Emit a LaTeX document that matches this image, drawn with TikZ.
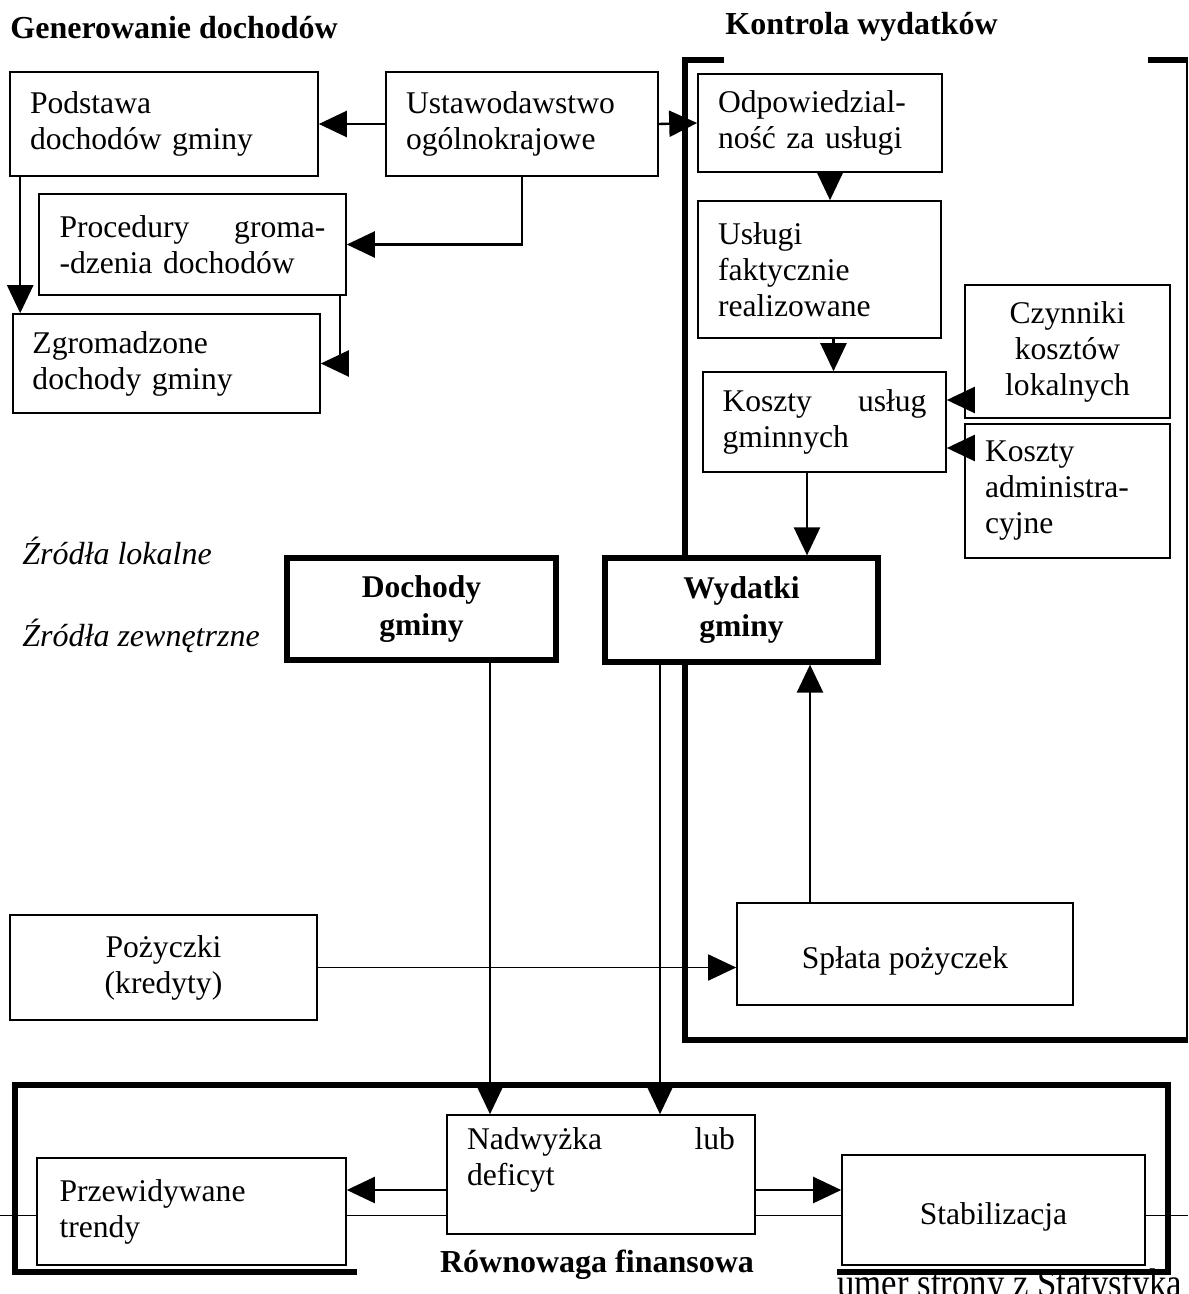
\documentclass[tikz,border=0pt]{standalone}
\usepackage{fontspec}
\setmainfont{Liberation Serif}
\usepackage{tikz}
\usetikzlibrary{arrows.meta}

\begin{document}
\begin{tikzpicture}[x=0.5pt, y=-0.5pt, font=\fontsize{15.8}{18}\selectfont,
  box/.style={draw, line width=0.8pt, fill=white, inner sep=0pt},
  mainbox/.style={draw, line width=2.6pt, fill=white, inner sep=0pt, align=center,
    font=\fontsize{15.8}{19}\selectfont\bfseries},
  title/.style={inner sep=0pt, anchor=west, font=\fontsize{16}{18}\selectfont\bfseries},
  arr/.style={-{Triangle[length=14pt,width=13pt]}, line width=1.2pt},
  frame/.style={line width=3pt}]
  \useasboundingbox (0,0) rectangle (1188,1294);

  % Titles
  \node[title] (gentitle) at (10,28) {Generowanie dochodów};
  \node[title] (kontitle) at (725,27) {Kontrola wydatków};

  % Frames
  \draw[frame] (724,60) -- (685,60) -- (685,1040) -- (1188,1040);
  \draw[frame] (1148,60) -- (1188,60);
  \draw[line width=0.6pt] (1187,60) -- (1187,1040);
  \draw[line width=0.5pt] (0,1215) -- (1188,1215);
  \draw[frame] (357,1272) -- (15,1272) -- (15,1085) -- (1168,1085) -- (1168,1272) -- (837,1272);

  % --- Generowanie dochodow ---
  \node[box, minimum width=154pt, minimum height=52pt, text width=134pt, align=left] (podstawa) at (164,124) {Podstawa\\dochodów gminy};
  \node[box, minimum width=136pt, minimum height=52pt, text width=116pt, align=left] (ustaw) at (522,124) {Ustawodawstwo\\ogólnokrajowe};
  \node[box, minimum width=153.5pt, minimum height=50.5pt, text width=133pt, align=left] (procedury) at (192.5,244.5) {Procedury\hfill groma-\\-dzenia dochodów};
  \node[box, minimum width=153.5pt, minimum height=49.5pt, text width=134pt, align=left] (zgrom) at (166.5,363.5) {Zgromadzone\\dochody gminy};

  % --- Kontrola wydatkow ---
  \node[box, minimum width=122pt, minimum height=49pt, text width=102pt, align=left] (odpow) at (820,123) {Odpowiedzial-\\ność za usługi};
  \node[box, minimum width=121.5pt, minimum height=68.5pt, text width=101.5pt, align=left] (uslugi) at (819.5,269.5) {Usługi\\faktycznie\\realizowane};
  \node[box, minimum width=102.5pt, minimum height=66.5pt, align=center] (czynniki) at (1067.5,351.5) {Czynniki\\kosztów\\lokalnych};
  \node[box, minimum width=121.5pt, minimum height=50pt, text width=102pt, align=left] (kosztyu) at (824.5,422) {Koszty\hfill usług\\gminnych};
  \node[box, minimum width=102.5pt, minimum height=67pt, text width=82.5pt, align=left] (admin) at (1067.5,491) {Koszty\\administra-\\cyjne};

  % Sources
  \node[inner sep=0pt, anchor=west, font=\fontsize{16}{18}\selectfont\itshape] (zrlok) at (22,551) {Źródła lokalne};
  \node[inner sep=0pt, anchor=west, font=\fontsize{16}{18}\selectfont\itshape] (zrzew) at (22,636) {Źródła zewnętrzne};

  % Main boxes
  \node[mainbox, minimum width=134.5pt, minimum height=51pt] (dochody) at (421.5,609) {Dochody\\gminy};
  \node[mainbox, minimum width=136.5pt, minimum height=52pt] (wydatki) at (741.5,610) {Wydatki\\gminy};

  % Loans
  \node[box, minimum width=153.5pt, minimum height=52.5pt, align=center] (pozyczki) at (163.5,967.5) {Pożyczki\\(kredyty)};
  \node[box, minimum width=168pt, minimum height=51pt, align=center] (splata) at (905,954) {\mbox{}\\Spłata pożyczek};

  % --- Rownowaga finansowa ---
  \node[box, minimum width=154pt, minimum height=59.5pt, text width=134pt, align=left] (nadwyzka) at (601,1174.5) {Nadwyżka\hfill lub\\deficyt\\\mbox{}};
  \node[box, minimum width=154.5pt, minimum height=53.5pt, text width=132pt, align=left] (przew) at (191.5,1211.5) {Przewidywane\\trendy};
  \node[box, minimum width=151.5pt, minimum height=55pt, align=center] (stabil) at (993.5,1210) {\mbox{}\\Stabilizacja};
  \node[inner sep=0pt, font=\fontsize{16}{18}\selectfont\bfseries] (rowtitle) at (597,1265) {Równowaga finansowa};
  \node[inner sep=0pt, anchor=base west, xscale=0.87, font=\fontsize{20}{22}\selectfont] (stopka) at (837,1296) {umer strony z Statystyka};

  % Arrows: income side
  \draw[arr] (ustaw.west) -- (podstawa.east);
  \draw[arr] (ustaw.east) -- (odpow.west);
  \draw[arr] (ustaw.south) |- (procedury.east);
  \draw[arr] ([xshift=5.5pt]podstawa.south west) -- ([xshift=5.5pt]podstawa.south west |- zgrom.north);
  \draw[arr] ([xshift=-3.5pt]procedury.south east) |- (zgrom.east);

  % Arrows: expenditure side
  \draw[arr] ([xshift=5pt]odpow.south) -- ([xshift=5pt]odpow.south |- uslugi.north);
  \draw[arr] ([xshift=7pt]uslugi.south) -- ([xshift=7pt]uslugi.south |- kosztyu.north);
  \draw[arr] ([yshift=11pt]kosztyu.east -| czynniki.west) -- ([yshift=11pt]kosztyu.east);
  \draw[arr] ([yshift=-13pt]kosztyu.east -| admin.west) -- ([yshift=-13pt]kosztyu.east);
  \draw[arr] ([xshift=-8.75pt]kosztyu.south) -- ([xshift=-8.75pt]kosztyu.south |- wydatki.north);
  \draw[arr] ([xshift=-47.5pt]splata.north) -- ([xshift=-47.5pt]splata.north |- wydatki.south);

  % Arrows: balance
  \draw[arr, line width=0.9pt] (pozyczki.east) -- (pozyczki.east -| splata.west);
  \draw[arr] ([xshift=34.25pt]dochody.south) -- ([xshift=34.25pt]dochody.south |- nadwyzka.north);
  \draw[arr] ([xshift=-40.75pt]wydatki.south) -- ([xshift=-40.75pt]wydatki.south |- nadwyzka.north);
  \draw[arr] ([yshift=-7.75pt]nadwyzka.west) -- ([yshift=-7.75pt]nadwyzka.west -| przew.east);
  \draw[arr] ([yshift=-7.75pt]nadwyzka.east) -- ([yshift=-7.75pt]nadwyzka.east -| stabil.west);
\end{tikzpicture}
\end{document}
